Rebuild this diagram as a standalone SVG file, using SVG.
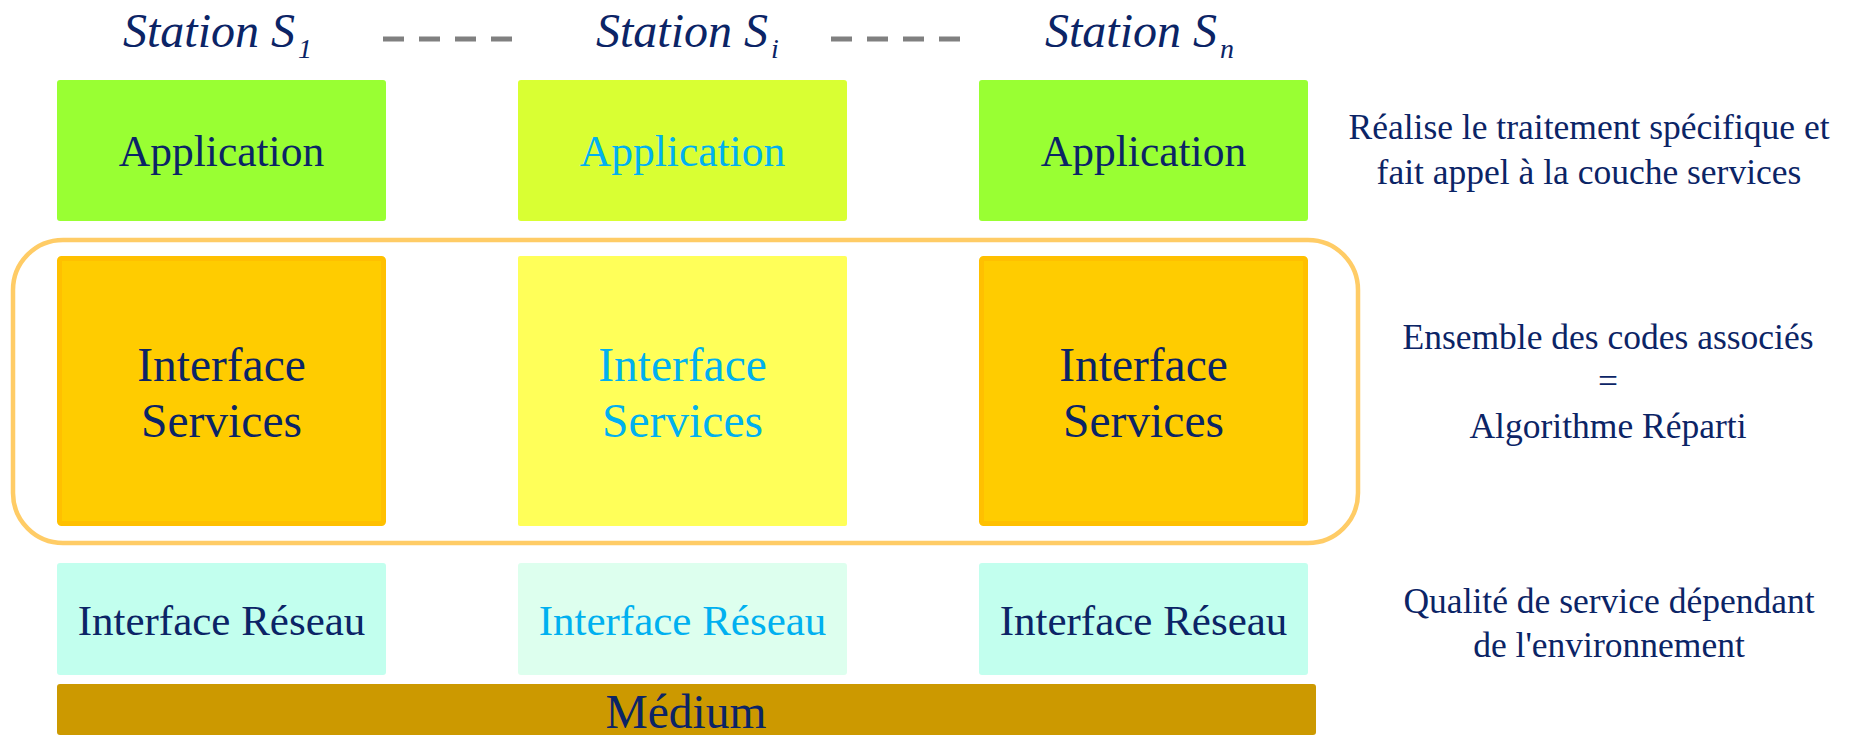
<svg xmlns="http://www.w3.org/2000/svg" width="1870" height="737" viewBox="0 0 1870 737">
  <defs>
    <style>
      text { font-family: "Liberation Serif", "Times New Roman", serif; }
      .dark { fill: #0B2466; }
      .light { fill: #00B0F0; }
      .title { font-size: 48px; font-style: italic; }
      .sub { font-size: 28px; }
      .app { font-size: 43.5px; text-anchor: middle; }
      .svc { font-size: 47.5px; text-anchor: middle; }
      .net { font-size: 43px; text-anchor: middle; }
      .note { font-size: 35.5px; text-anchor: middle; }
      .dash { stroke: #808080; stroke-width: 5; stroke-dasharray: 21 15; fill: none; }
    </style>
  </defs>

  <rect width="1870" height="737" fill="#FFFFFF"/>

  <!-- station headings -->
  <g id="headings" class="dark">
    <text class="title" x="123" y="47">Station S<tspan class="sub" dx="3" dy="11">1</tspan></text>
    <text class="title" x="596" y="47">Station S<tspan class="sub" dx="3" dy="11">i</tspan></text>
    <text class="title" x="1045" y="47">Station S<tspan class="sub" dx="3" dy="11">n</tspan></text>
  </g>

  <!-- dashed separators between headings -->
  <g id="connectors">
    <line class="dash" x1="383" y1="39" x2="512" y2="39"/>
    <line class="dash" x1="831" y1="39" x2="960" y2="39"/>
  </g>

  <!-- grouping frame around the service layer -->
  <g id="service-frame">
    <rect x="13" y="240" width="1345" height="303" rx="50" ry="50" fill="none" stroke="#FFCC66" stroke-width="4.5"/>
  </g>

  <!-- station 1 -->
  <g id="station-1">
    <g id="s1-application">
      <rect x="57" y="80" width="329" height="141" rx="3" fill="#99FF33"/>
      <text class="app dark" x="221.5" y="166">Application</text>
    </g>
    <g id="s1-services">
      <rect x="59.5" y="258.5" width="324" height="265" rx="2" fill="#FFCC00" stroke="#FFC000" stroke-width="5"/>
      <text class="svc dark" x="221.5" y="381">Interface</text>
      <text class="svc dark" x="221.5" y="437">Services</text>
    </g>
    <g id="s1-network">
      <rect x="57" y="563" width="329" height="112" rx="3" fill="#C2FFEE"/>
      <text class="net dark" x="221.5" y="635">Interface Réseau</text>
    </g>
  </g>

  <!-- station i -->
  <g id="station-i">
    <g id="si-application">
      <rect x="518" y="80" width="329" height="141" rx="3" fill="#D9FF33"/>
      <text class="app light" x="682.5" y="166">Application</text>
    </g>
    <g id="si-services">
      <rect x="518" y="256" width="329" height="270" rx="2" fill="#FFFF59"/>
      <text class="svc light" x="682.5" y="381">Interface</text>
      <text class="svc light" x="682.5" y="437">Services</text>
    </g>
    <g id="si-network">
      <rect x="518" y="563" width="329" height="112" rx="3" fill="#DDFFEE"/>
      <text class="net light" x="682.5" y="635">Interface Réseau</text>
    </g>
  </g>

  <!-- station n -->
  <g id="station-n">
    <g id="sn-application">
      <rect x="979" y="80" width="329" height="141" rx="3" fill="#99FF33"/>
      <text class="app dark" x="1143.5" y="166">Application</text>
    </g>
    <g id="sn-services">
      <rect x="981.5" y="258.5" width="324" height="265" rx="2" fill="#FFCC00" stroke="#FFC000" stroke-width="5"/>
      <text class="svc dark" x="1143.5" y="381">Interface</text>
      <text class="svc dark" x="1143.5" y="437">Services</text>
    </g>
    <g id="sn-network">
      <rect x="979" y="563" width="329" height="112" rx="3" fill="#C2FFEE"/>
      <text class="net dark" x="1143.5" y="635">Interface Réseau</text>
    </g>
  </g>

  <!-- shared medium -->
  <g id="medium">
    <rect x="57" y="684" width="1259" height="51" rx="3" fill="#CC9900"/>
    <text class="svc dark" x="686" y="728">Médium</text>
  </g>

  <!-- layer descriptions -->
  <g id="note-application" class="dark">
    <text class="note" x="1589" y="139">Réalise le traitement spécifique et</text>
    <text class="note" x="1589" y="184">fait appel à la couche services</text>
  </g>
  <g id="note-services" class="dark">
    <text class="note" x="1608" y="349">Ensemble des codes associés</text>
    <text class="note" x="1608" y="393">=</text>
    <text class="note" x="1608" y="438">Algorithme Réparti</text>
  </g>
  <g id="note-network" class="dark">
    <text class="note" x="1609" y="613">Qualité de service dépendant</text>
    <text class="note" x="1609" y="657">de l'environnement</text>
  </g>
</svg>
